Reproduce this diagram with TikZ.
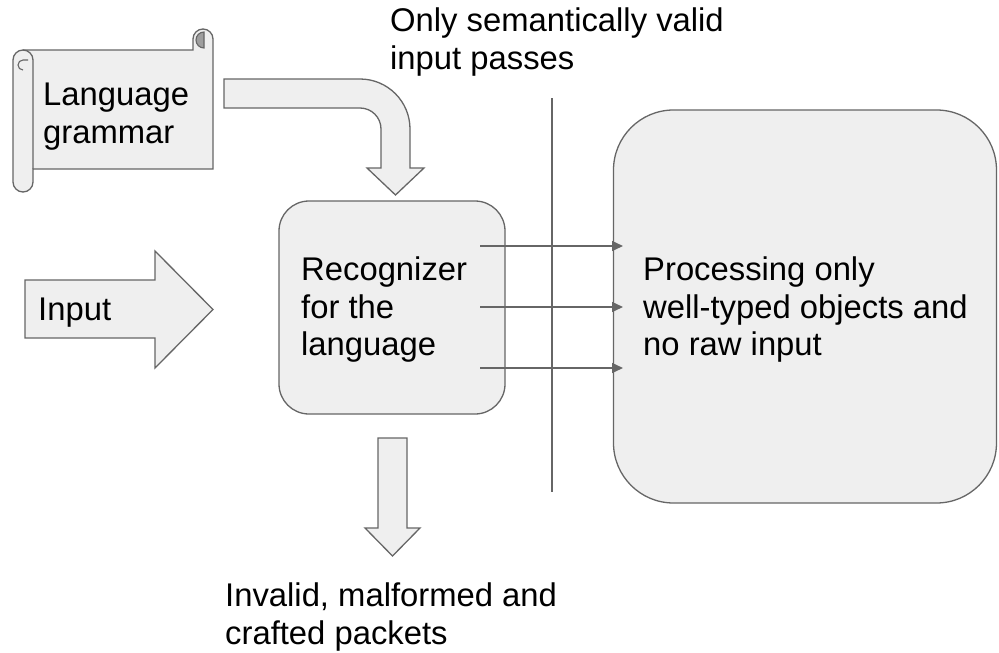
\documentclass[tikz,border=0pt]{standalone}
\usepackage{fontspec}
\setmainfont{Liberation Sans}
\usetikzlibrary{arrows.meta}
\definecolor{shapefill}{HTML}{EFEFEF}
\definecolor{shapeline}{HTML}{666666}
\definecolor{rolldark}{HTML}{9E9E9E}
\begin{document}
\begin{tikzpicture}[x=1pt,y=-1pt,>={Triangle[length=11pt,width=10pt]},
	shapebox/.style={draw=shapeline,fill=shapefill,line width=1.3pt},
	flow/.style={->,draw=shapeline,line width=1.3pt},
	txt/.style={anchor=north west,inner sep=0pt,align=left,
		font=\fontsize{32.8}{37.5}\selectfont}]

	\useasboundingbox (0,0) rectangle (999,653);

	% scroll with the grammar
	\draw [shapebox] (23,50) -- (193,50) -- (193,39) arc [start angle=180,end angle=360,radius=10]
		-- (213,169) -- (33,169) -- (33,182) arc [start angle=0,end angle=180,radius=10]
		-- (13,60) arc [start angle=180,end angle=270,radius=10] -- cycle;
	\draw [shapeline,line width=1.3pt] (33,169) -- (33,60) arc [start angle=0,end angle=-90,radius=10];
	\draw [shapeline,line width=1.1pt] (23,70) arc [start angle=90,end angle=270,radius=5] -- (28,60);
	\filldraw [draw=shapeline,fill=rolldark,line width=1.1pt] (204,48) arc [start angle=90,end angle=270,radius=8] -- cycle;
	\node [txt] (grammar) at (43,83) {Language\\grammar};

	% block arrows
	\draw [shapebox] (224,79) -- (360,79) arc [start angle=-90,end angle=0,radius=50]
		-- (410,168) -- (424,168) -- (395.5,195) -- (367,168) -- (381,168)
		-- (381,129) arc [start angle=0,end angle=-90,radius=21] -- (224,108) -- cycle;
	\draw [shapebox] (25,280) -- (155,280) -- (155,251) -- (213,309.5) -- (155,368)
		-- (155,338) -- (25,338) -- cycle;
	\node [txt] (input) at (38,298) {Input};
	\draw [shapebox] (378,438) -- (407,438) -- (407,528) -- (420,528) -- (392.5,556)
		-- (365,528) -- (378,528) -- cycle;

	% recognizer and processing
	\node [shapebox,rounded corners=30pt,minimum width=226pt,minimum height=213pt] (rec) at (392,307.5) {};
	\node [txt] (rectext) at (301,257) {Recognizer\\for the\\language};
	\node [shapebox,rounded corners=60pt,minimum width=383pt,minimum height=393pt] (proc) at (805,306.5) {};
	\node [txt] (proctext) at (643,257) {Processing only\\well-typed objects and\\no raw input};

	% boundary
	\coordinate (wall top) at (552,98);
	\coordinate (wall bottom) at (552,492);
	\draw [shapeline,line width=1.3pt] (wall top) -- (wall bottom);

	\foreach \y/\n in {246/a,307/b,368/c} {
		\coordinate (out\n) at (480,\y);
		\coordinate (in\n) at (623,\y);
		\draw [flow] (out\n) -- (in\n);
	}

	\node [txt] (valid) at (390,8) {Only semantically valid\\input passes};
	\node [txt] (invalid) at (225,583) {Invalid, malformed and\\crafted packets};

\end{tikzpicture}
\end{document}
